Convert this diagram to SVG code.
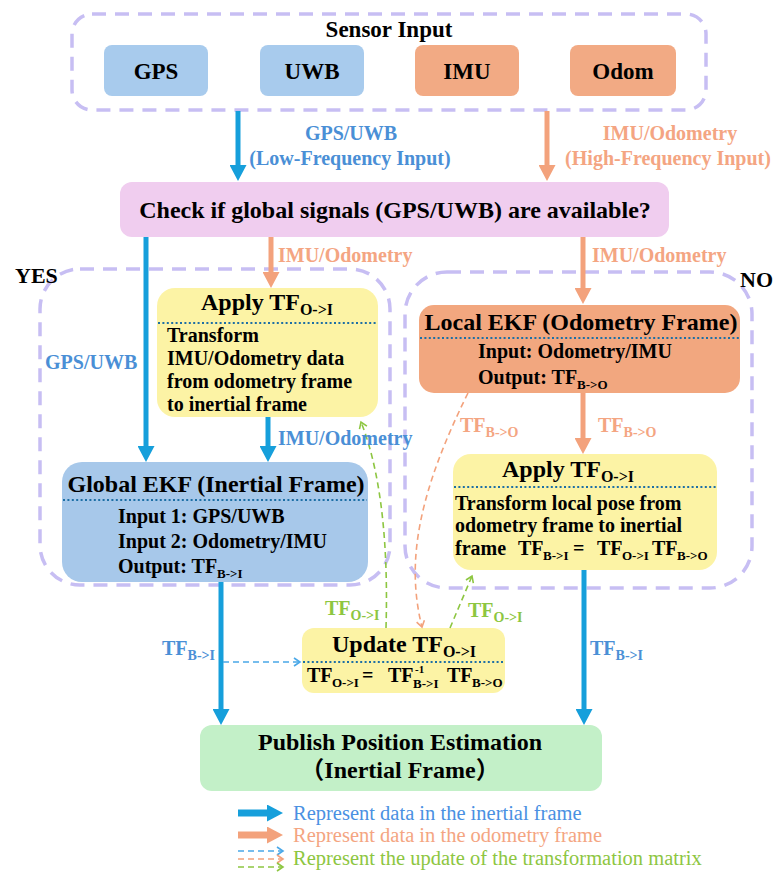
<svg xmlns="http://www.w3.org/2000/svg" width="777" height="873" viewBox="0 0 777 873">
<style>
.t{font-family:"Liberation Serif","Times New Roman",serif;font-weight:bold;fill:#000}
.ti{font-size:24px}
.bd{font-size:20px}
.st{font-size:16px}
.sb{font-size:13px}
.sl{font-size:14px}
.lb{fill:#4a8fd6;font-size:20px}
.lo{fill:#f4a582;font-size:20px}
.lg{fill:#8dc641;font-size:20px}
.lgd{font-family:"Liberation Serif","Times New Roman",serif;font-size:20.5px}
.region{fill:none;stroke:#c7bef3;stroke-width:3.5;stroke-dasharray:14 9}
.dot{stroke:#1d6fa5;stroke-width:2.2;stroke-dasharray:2 2.4}
.ab{stroke:#169fdb;stroke-width:5;fill:none}
.ao{stroke:#f3a27c;stroke-width:5;fill:none}
.db{stroke:#4aa8e8;stroke-width:1.6;stroke-dasharray:6 4;fill:none}
.do{stroke:#f3a27c;stroke-width:1.6;stroke-dasharray:6 4;fill:none}
.dg{stroke:#8dc641;stroke-width:1.6;stroke-dasharray:6 4;fill:none}
</style>
<defs>
<marker id="hb" markerUnits="userSpaceOnUse" markerWidth="17" markerHeight="17" refX="1" refY="8.5" orient="auto"><path d="M0,0 L16,8.5 L0,17 z" fill="#169fdb"/></marker>
<marker id="ho" markerUnits="userSpaceOnUse" markerWidth="17" markerHeight="17" refX="1" refY="8.5" orient="auto"><path d="M0,0 L16,8.5 L0,17 z" fill="#f3a27c"/></marker>
<marker id="cb" markerUnits="userSpaceOnUse" markerWidth="10" markerHeight="10" refX="7" refY="5" orient="auto"><path d="M1,1 L7,5 L1,9" fill="none" stroke="#4aa8e8" stroke-width="1.6"/></marker>
<marker id="co" markerUnits="userSpaceOnUse" markerWidth="10" markerHeight="10" refX="7" refY="5" orient="auto"><path d="M1,1 L7,5 L1,9" fill="none" stroke="#f3a27c" stroke-width="1.6"/></marker>
<marker id="cg" markerUnits="userSpaceOnUse" markerWidth="10" markerHeight="10" refX="7" refY="5" orient="auto"><path d="M1,1 L7,5 L1,9" fill="none" stroke="#8dc641" stroke-width="1.6"/></marker>
</defs>

<g id="regions">
<rect class="region" x="72" y="14" width="634" height="96" rx="20"/>
<rect class="region" x="40" y="269" width="350" height="316" rx="40"/>
<rect class="region" x="405" y="272" width="347" height="316" rx="42"/>
<text class="t" x="389" y="37" text-anchor="middle" font-size="23">Sensor Input</text>
<text class="t" x="15" y="283" font-size="22">YES</text>
<text class="t" x="740" y="287" font-size="22">NO</text>
</g>

<g id="gps"><rect x="104" y="45" width="104" height="51" rx="8" fill="#a8cbed"/><text class="t" x="156" y="79" text-anchor="middle" font-size="23">GPS</text></g>
<g id="uwb"><rect x="260" y="45" width="104" height="51" rx="8" fill="#a8cbed"/><text class="t" x="312" y="79" text-anchor="middle" font-size="23">UWB</text></g>
<g id="imu"><rect x="415" y="45" width="104" height="51" rx="8" fill="#f2aa84"/><text class="t" x="467" y="79" text-anchor="middle" font-size="23">IMU</text></g>
<g id="odom"><rect x="570" y="45" width="106" height="51" rx="8" fill="#f2aa84"/><text class="t" x="623" y="79" text-anchor="middle" font-size="23">Odom</text></g>

<g id="check"><rect x="120" y="182" width="549" height="55" rx="12" fill="#f0cdef"/><text class="t ti" x="395" y="218" text-anchor="middle">Check if global signals (GPS/UWB) are available?</text></g>

<g id="apply-left">
<rect x="157" y="288" width="221" height="129" rx="18" fill="#fcf3a5"/>
<text class="t ti" x="267" y="310" text-anchor="middle">Apply TF<tspan class="st" dy="5">O-&gt;I</tspan></text>
<line class="dot" x1="158" y1="323" x2="377" y2="323"/>
<text class="t bd" x="167" y="342">Transform</text>
<text class="t bd" x="167" y="365">IMU/Odometry data</text>
<text class="t bd" x="167" y="388">from odometry frame</text>
<text class="t bd" x="167" y="411">to inertial frame</text>
</g>

<g id="global-ekf">
<rect x="62" y="462" width="306" height="120" rx="20" fill="#a7c8ea"/>
<text class="t ti" x="216" y="492" text-anchor="middle">Global EKF (Inertial Frame)</text>
<line class="dot" x1="63" y1="500" x2="367" y2="500"/>
<text class="t bd" x="118" y="523">Input 1: GPS/UWB</text>
<text class="t bd" x="118" y="548">Input 2: Odometry/IMU</text>
<text class="t bd" x="118" y="573">Output: TF<tspan class="sb" dy="5">B-&gt;I</tspan></text>
</g>

<g id="local-ekf">
<rect x="419" y="305" width="321" height="88" rx="15" fill="#f2a77f"/>
<text class="t ti" x="581" y="330" text-anchor="middle">Local EKF (Odometry Frame)</text>
<line class="dot" x1="420" y1="338" x2="739" y2="338"/>
<text class="t bd" x="478" y="358">Input: Odometry/IMU</text>
<text class="t bd" x="478" y="384">Output: TF<tspan class="sb" dy="5">B-&gt;O</tspan></text>
</g>

<g id="apply-right">
<rect x="453" y="454" width="264" height="116" rx="18" fill="#fcf3a5"/>
<text class="t ti" x="568" y="477" text-anchor="middle">Apply TF<tspan class="st" dy="5">O-&gt;I</tspan></text>
<line class="dot" x1="454" y1="487" x2="716" y2="487"/>
<text class="t bd" x="455" y="510">Transform local pose from</text>
<text class="t bd" x="455" y="532">odometry frame to inertial</text>
<text class="t bd" y="555"><tspan x="455">frame</tspan><tspan x="518">TF</tspan><tspan class="sb" x="543" dy="5">B-&gt;I</tspan><tspan x="573" dy="-5">=</tspan><tspan x="597">TF</tspan><tspan class="sb" x="622" dy="5">O-&gt;I</tspan><tspan x="652" dy="-5">TF</tspan><tspan class="sb" x="677" dy="5">B-&gt;O</tspan></text>
</g>

<g id="update">
<rect x="302" y="628" width="203" height="65" rx="12" fill="#fcf3a5"/>
<text class="t ti" x="404" y="652" text-anchor="middle">Update TF<tspan class="st" dy="5">O-&gt;I</tspan></text>
<line class="dot" x1="303" y1="662" x2="504" y2="662"/>
<text class="t bd" y="682"><tspan x="307">TF</tspan><tspan class="sb" x="332" dy="5">O-&gt;I</tspan><tspan x="362" dy="-5">=</tspan><tspan x="388">TF</tspan><tspan class="sb" x="413" dy="6">B-&gt;I</tspan><tspan x="447" dy="-6">TF</tspan><tspan class="sb" x="472" dy="5">B-&gt;O</tspan></text>
<text class="t" x="415" y="673" font-size="11">-1</text>
</g>

<g id="publish">
<rect x="200" y="725" width="402" height="66" rx="12" fill="#c3f0c8"/>
<text class="t ti" x="400" y="750" text-anchor="middle">Publish Position Estimation</text>
<text class="t ti" x="400" y="778" text-anchor="middle" style="font-family:'Liberation Serif','Noto Sans CJK SC',serif">（Inertial Frame）</text>
</g>

<g id="connectors">
<line class="ab" x1="238" y1="111" x2="238" y2="166" marker-end="url(#hb)"/>
<line class="ao" x1="547" y1="111" x2="547" y2="166" marker-end="url(#ho)"/>
<line class="ab" x1="146" y1="237" x2="146" y2="447" marker-end="url(#hb)"/>
<line class="ao" x1="271" y1="237" x2="271" y2="273" marker-end="url(#ho)"/>
<line class="ao" x1="583" y1="237" x2="583" y2="289" marker-end="url(#ho)"/>
<line class="ab" x1="268" y1="417" x2="268" y2="447" marker-end="url(#hb)"/>
<line class="ao" x1="583" y1="393" x2="583" y2="439" marker-end="url(#ho)"/>
<line class="ab" x1="221" y1="582" x2="221" y2="710" marker-end="url(#hb)"/>
<line class="ab" x1="584" y1="570" x2="584" y2="710" marker-end="url(#hb)"/>
<path class="db" d="M223,662 H300" marker-end="url(#cb)"/>
<path class="dg" d="M386,628 C388,560 384,480 361,422" marker-end="url(#cg)"/>
<path class="do" d="M468,393 C420,490 405,560 422,627" marker-end="url(#co)"/>
<path class="dg" d="M450,628 L472,576" marker-end="url(#cg)"/>

<text class="t lb" x="351" y="140" text-anchor="middle">GPS/UWB</text>
<text class="t lb" x="350" y="165" text-anchor="middle">(Low-Frequency Input)</text>
<text class="t lo" x="670" y="140" text-anchor="middle">IMU/Odometry</text>
<text class="t lo" x="668" y="165" text-anchor="middle">(High-Frequency Input)</text>
<text class="t lo" x="278" y="262">IMU/Odometry</text>
<text class="t lo" x="592" y="262">IMU/Odometry</text>
<text class="t lb" x="45" y="369">GPS/UWB</text>
<text class="t lb" x="278" y="445">IMU/Odometry</text>
<text class="t lo" x="460" y="432">TF<tspan class="sl" dy="5">B-&gt;O</tspan></text>
<text class="t lo" x="598" y="432">TF<tspan class="sl" dy="5">B-&gt;O</tspan></text>
<text class="t lg" x="325" y="615">TF<tspan class="sl" dy="5">O-&gt;I</tspan></text>
<text class="t lg" x="468" y="617">TF<tspan class="sl" dy="5">O-&gt;I</tspan></text>
<text class="t lb" x="162" y="655">TF<tspan class="sl" dy="5">B-&gt;I</tspan></text>
<text class="t lb" x="590" y="655">TF<tspan class="sl" dy="5">B-&gt;I</tspan></text>
</g>

<g id="legend">
<line x1="238" y1="813" x2="268" y2="813" stroke="#169fdb" stroke-width="7" marker-end="url(#hb)"/>
<line x1="238" y1="835" x2="268" y2="835" stroke="#f3a27c" stroke-width="7" marker-end="url(#ho)"/>
<path class="db" d="M238,851 H283" marker-end="url(#cb)"/>
<path class="do" d="M238,859 H283" marker-end="url(#co)"/>
<path class="dg" d="M238,867 H283" marker-end="url(#cg)"/>
<text class="lgd" x="293" y="820" fill="#4a90e2">Represent data in the inertial frame</text>
<text class="lgd" x="293" y="842" fill="#f4a582">Represent data in the odometry frame</text>
<text class="lgd" x="293" y="865" fill="#8dc641">Represent the update of the transformation matrix</text>
</g>
</svg>
